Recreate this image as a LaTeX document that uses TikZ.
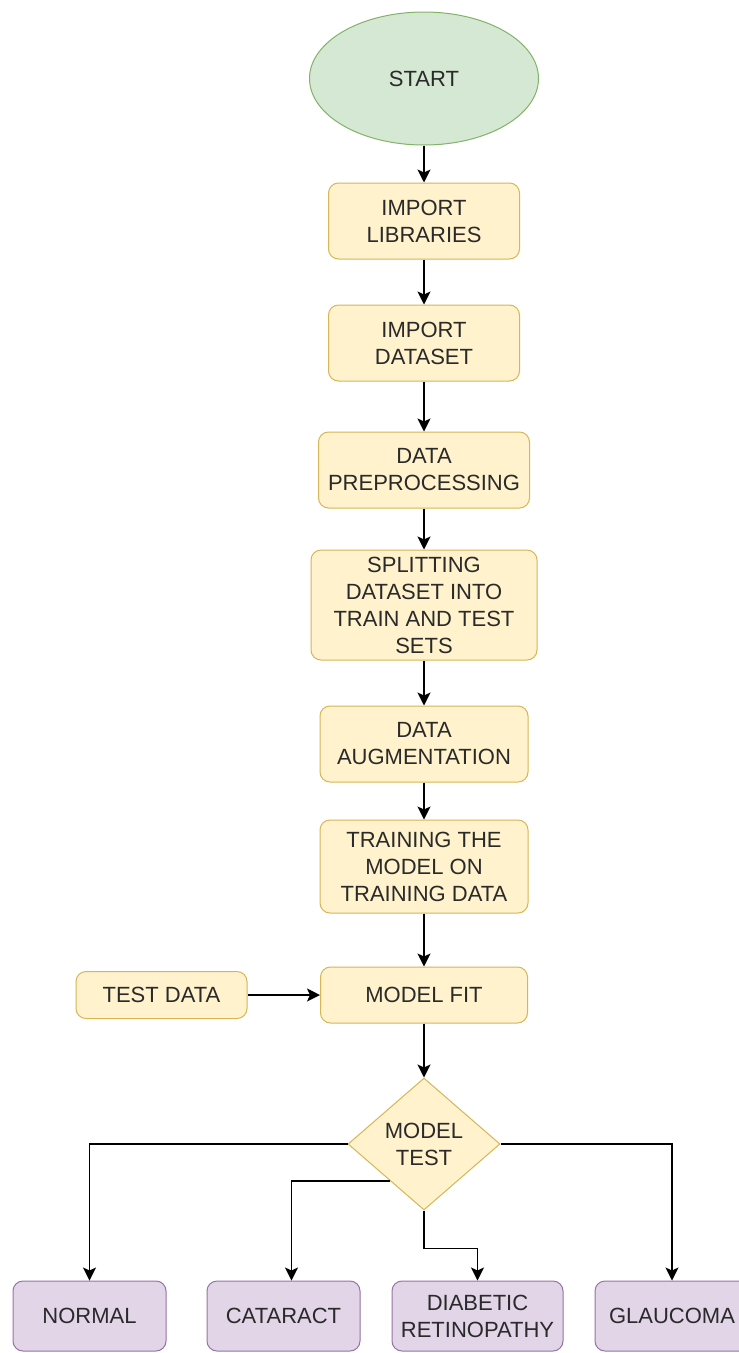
\documentclass[tikz,border=0pt]{standalone}
\usepackage{fontspec}
\setmainfont{Liberation Sans}
\usetikzlibrary{shapes.geometric,arrows.meta,calc}
\definecolor{yfill}{HTML}{FFF2CC}
\definecolor{ybd}{HTML}{D6B656}
\definecolor{gfill}{HTML}{D5E8D4}
\definecolor{gbd}{HTML}{82B366}
\definecolor{pfill}{HTML}{E1D5E7}
\definecolor{pbd}{HTML}{9673A6}
\definecolor{txt}{HTML}{2A2A2A}
\begin{document}
\begin{tikzpicture}[x=1pt,y=-1pt,
  every node/.style={text=txt, align=center, inner sep=0pt, font=\fontsize{22}{27}\selectfont},
  ybox/.style={rectangle, rounded corners=10pt, draw=ybd, fill=yfill, line width=1pt},
  pbox/.style={rectangle, rounded corners=10pt, draw=pbd, fill=pfill, line width=1pt, minimum height=70pt},
  ell/.style={ellipse, draw=gbd, fill=gfill, line width=1pt, minimum width=229pt, minimum height=133pt},
  dia/.style={diamond, draw=ybd, fill=yfill, line width=1pt, minimum width=152pt, minimum height=132pt},
  conn/.style={line width=1.6pt, draw=black, -{Stealth[length=13pt,width=13pt,inset=3pt]}}]
\useasboundingbox (0,0) rectangle (739,1353);
\fill[white] (0,0) rectangle (739,1353);

\node[ell] (start) at (424,78.5) {START};
\node[ybox, minimum width=191pt, minimum height=76pt] (lib) at (424,221) {IMPORT\\LIBRARIES};
\node[ybox, minimum width=191pt, minimum height=76pt] (ds) at (424,343) {IMPORT\\DATASET};
\node[ybox, minimum width=211pt, minimum height=76pt] (pre) at (424,470) {DATA\\PREPROCESSING};
\node[ybox, minimum width=226pt, minimum height=110pt] (split) at (424,605) {SPLITTING\\DATASET INTO\\TRAIN AND TEST\\SETS};
\node[ybox, minimum width=208pt, minimum height=76pt] (aug) at (424,744) {DATA\\AUGMENTATION};
\node[ybox, minimum width=208pt, minimum height=93pt] (train) at (424,866.5) {TRAINING THE\\MODEL ON\\TRAINING DATA};
\node[ybox, minimum width=207pt, minimum height=56pt] (fit) at (424,995) {MODEL FIT};
\node[ybox, minimum width=171pt, minimum height=47pt] (test) at (161.5,995) {TEST DATA};
\node[dia] (dt) at (424,1144) {MODEL\\TEST};

\node[pbox, minimum width=153pt] (normal) at (89.5,1316) {NORMAL};
\node[pbox, minimum width=153pt] (cat) at (283.5,1316) {CATARACT};
\node[pbox, minimum width=171pt] (dr) at (477.5,1316) {DIABETIC\\RETINOPATHY};
\node[pbox, minimum width=154pt] (gl) at (672,1316) {GLAUCOMA};

\draw[conn] (start) -- (lib);
\draw[conn] (lib) -- (ds);
\draw[conn] (ds) -- (pre);
\draw[conn] (pre) -- (split);
\draw[conn] (split) -- (aug);
\draw[conn] (aug) -- (train);
\draw[conn] (train) -- (fit);
\draw[conn] (test) -- (fit);
\draw[conn] (fit) -- (dt);

\coordinate (catstart) at ($(dt.west)!0.56!(dt.south)$);
\coordinate (catend) at ([xshift=8pt]cat.north);
\coordinate (drbend) at ($(dt.south)+(0,38)$);

\draw[conn] (dt.west) -| (normal.north);
\draw[conn] (catstart) -| (catend);
\draw[conn] (dt.south) -- (drbend) -| (dr.north);
\draw[conn] (dt.east) -| (gl.north);
\end{tikzpicture}
\end{document}
